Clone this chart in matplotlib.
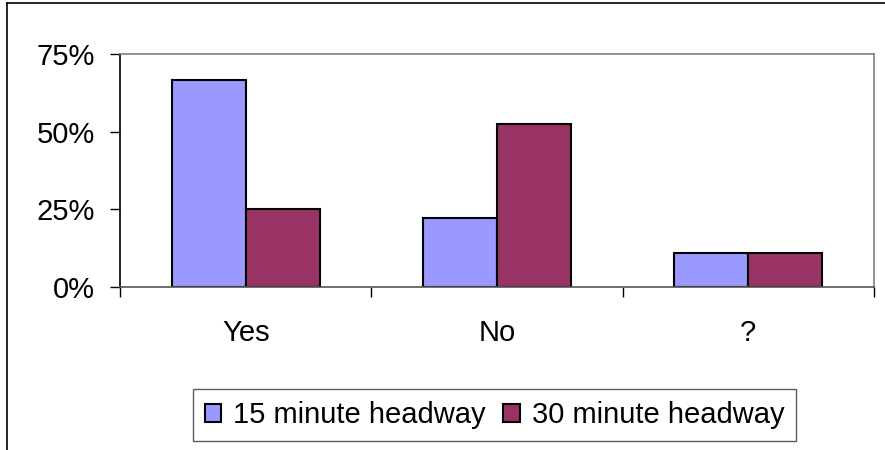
import matplotlib
matplotlib.use("Agg")
import matplotlib.pyplot as plt
import numpy as np
from matplotlib.lines import Line2D

plt.rcParams['font.family'] = ['Liberation Sans', 'DejaVu Sans']

# data
categories = ['Yes', 'No', '?']
series_names = ['15 minute headway', '30 minute headway']
vals_15 = [66.7, 22.2, 11.1]
vals_30 = [25.0, 52.6, 11.1]
yticks = [0, 25, 50, 75]

colors = ['#9999FF', '#993366']

fig = plt.figure(figsize=(8.85, 4.5), dpi=100)
ax = fig.add_axes([120 / 885, 163 / 450, 754 / 885, 233 / 450])

x = np.arange(len(categories))
w = 0.294
ax.bar(x - w / 2, vals_15, w, color=colors[0], edgecolor='black', linewidth=1.5,
       label=series_names[0])
ax.bar(x + w / 2, vals_30, w, color=colors[1], edgecolor='black', linewidth=1.5,
       label=series_names[1])

ax.set_xlim(-0.5, len(categories) - 0.5)
ax.set_ylim(0, 75)

ax.set_yticks(yticks)
ax.set_yticklabels([f'{v}%' for v in yticks], fontsize=21)
ax.tick_params(axis='y', direction='out', length=7, width=1, pad=11)

ax.set_xticks(np.arange(-0.5, len(categories), 1.0))
ax.set_xticklabels([])
ax.tick_params(axis='x', which='major', direction='out', length=7, width=1)
ax.set_xticks(x, minor=True)
ax.set_xticklabels(categories, minor=True, fontsize=21)
ax.tick_params(axis='x', which='minor', length=0, pad=23)

ax.spines['left'].set_color('black')
ax.spines['bottom'].set_color('#555555')
ax.spines['top'].set_color('#808080')
ax.spines['right'].set_color('#808080')
for s in ax.spines.values():
    s.set_linewidth(1.2)

leg = fig.legend(loc='center', bbox_to_anchor=(494.5 / 885, 1 - 415 / 450), ncol=2,
                 fontsize=21, frameon=True, fancybox=False, shadow=False,
                 handlelength=0.58, handleheight=0.58, handletextpad=0.4,
                 columnspacing=0.6, borderpad=0.4, borderaxespad=0)
leg.get_frame().set_edgecolor('#333333')
leg.get_frame().set_linewidth(1.0)

# outer chart frame (cropped at right and bottom)
fig.add_artist(Line2D([7 / 885, 7 / 885], [0, 1 - 3 / 450], color='black', lw=1.2,
                      transform=fig.transFigure))
fig.add_artist(Line2D([7 / 885, 1], [1 - 3 / 450, 1 - 3 / 450], color='black', lw=1.2,
                      transform=fig.transFigure))

fig.savefig('out.png', dpi=100)
